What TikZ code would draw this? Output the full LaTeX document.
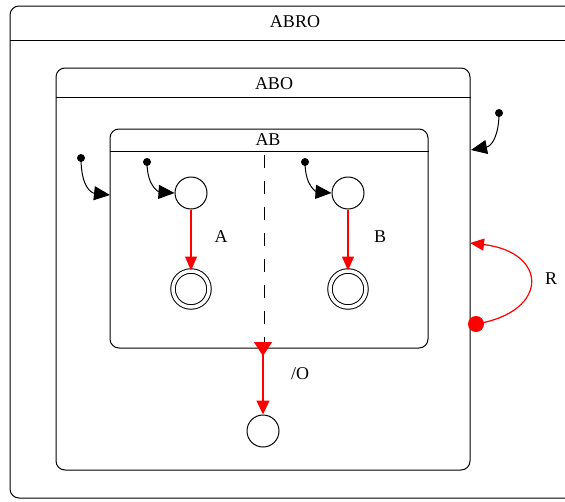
\documentclass[tikz,border=0pt]{standalone}
\usepackage{fontspec}
\setmainfont{Liberation Serif}
\usetikzlibrary{arrows.meta}
\tikzset{
  box/.style={draw, line width=1pt, rounded corners=9pt, inner sep=0pt},
  sep/.style={line width=1pt},
  state/.style={draw, circle, line width=1pt, minimum size=32pt, inner sep=0pt},
  final/.style={draw, circle, line width=1pt, double, double distance=3.5pt, minimum size=36pt, inner sep=0pt},
  dot/.style={fill, circle, minimum size=8pt, inner sep=0pt},
  init/.style={line width=1pt, -{Triangle[length=16pt,width=14pt]}},
  trans/.style={red, line width=1.2pt, -{Triangle[length=14pt,width=12pt]}},
  lbl/.style={font=\fontsize{18}{20}\selectfont, inner sep=0pt},
}
\begin{document}
\begin{tikzpicture}[x=1pt,y=-1pt]
\useasboundingbox (0,0) rectangle (565,501);
% outer ABRO
\node[box, minimum width=575pt, minimum height=492pt] (abro) at (297.5,252) {};
\draw[sep] (abro.west |- 0,40) coordinate (abrol) -- (abro.east |- 0,40) coordinate (abror);
\node[lbl] (abrot) at (295,22) {ABRO};
% ABO
\node[box, minimum width=414pt, minimum height=402pt] (abo) at (263,269) {};
\draw[sep] (abo.west |- 0,97) -- (abo.east |- 0,97);
\node[lbl] (abot) at (274,84) {ABO};
% AB
\node[box, minimum width=318pt, minimum height=219pt] (ab) at (269,238.5) {};
\draw[sep] (ab.west |- 0,151) -- (ab.east |- 0,151);
\node[lbl] (abt) at (268,140) {AB};
\coordinate (dtop) at (264,155);
\coordinate (dbot) at (264,348);
\draw[line width=1pt, dash pattern=on 12.5pt off 13.5pt] (dtop) -- (dbot);
% states
\node[state] (s1) at (191,193) {};
\node[final] (f1) at (191,289) {};
\node[state] (s2) at (348,193) {};
\node[final] (f2) at (348,289) {};
\node[state] (s3) at (263,431) {};
% initial dots
\node[dot] (d0) at (81,158) {};
\node[dot] (d1) at (147,162) {};
\node[dot] (d2) at (305,162) {};
\node[dot] (d3) at (499,113) {};
\coordinate (e0) at (110,195);
\coordinate (e3) at (471,150);
\draw[init] (d0.center) .. controls (81,188) and (92,193) .. (e0);
\draw[init] (d1.center) .. controls (147,188) and (160,192) .. (s1.west);
\draw[init] (d2.center) .. controls (305,188) and (318,192) .. (s2.west);
\draw[init] (d3.center) .. controls (499,135) and (492,146) .. (e3);
% transitions
\draw[trans] (s1) -- (f1);
\node[lbl] (la) at (221,237) {A};
\draw[trans] (s2) -- (f2);
\node[lbl] (lb) at (380,237) {B};
% /O
\coordinate (o1) at (263,342);
\draw[trans, {Triangle[reversed,length=14pt,width=18pt]}-{Triangle[length=14pt,width=13pt]}] (o1) -- (s3.north);
\node[lbl] (lo) at (300,374) {/O};
% R
\node[fill=red, circle, minimum size=16pt, inner sep=0pt] (rd) at (476,324) {};
\coordinate (rend) at (470,243);
\draw[trans] (rd.center) .. controls (550,312) and (548,252) .. (rend);
\node[lbl] (lr) at (551,279) {R};
\end{tikzpicture}
\end{document}
